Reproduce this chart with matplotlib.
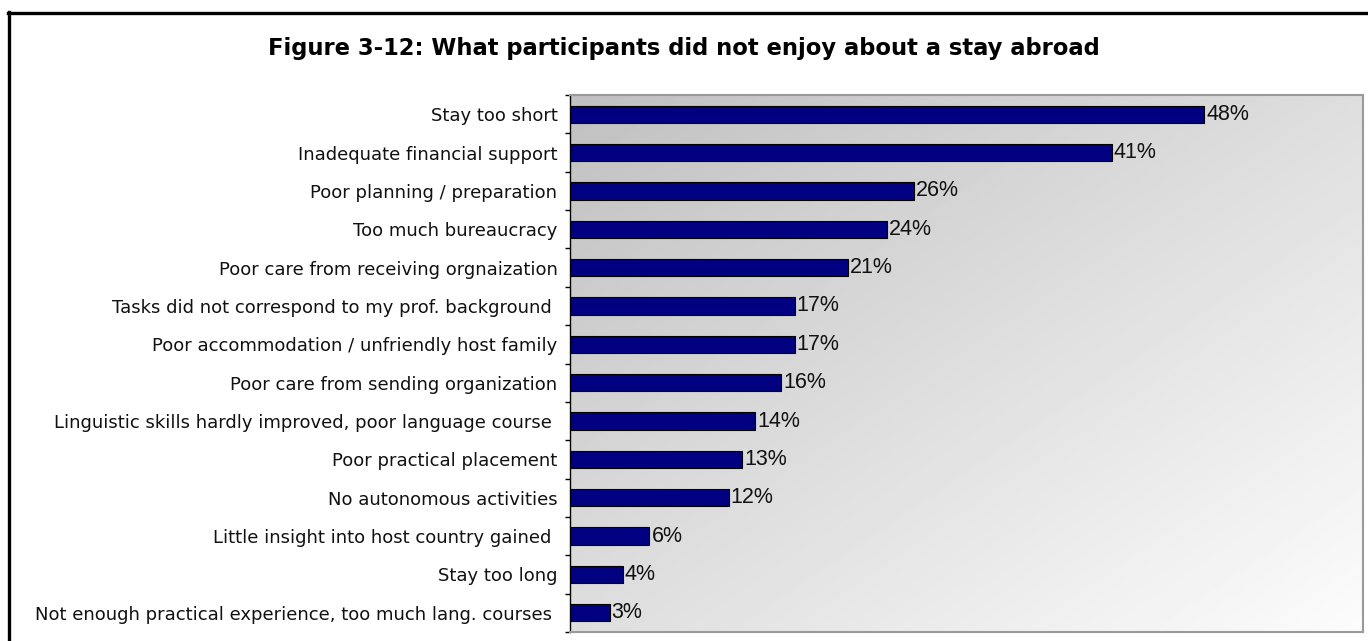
import matplotlib.pyplot as plt
import matplotlib.lines as mlines
import numpy as np

# Chart data
categories = [
    'Stay too short',
    'Inadequate financial support',
    'Poor planning / preparation',
    'Too much bureaucracy',
    'Poor care from receiving orgnaization',
    'Tasks did not correspond to my prof. background ',
    'Poor accommodation / unfriendly host family',
    'Poor care from sending organization',
    'Linguistic skills hardly improved, poor language course ',
    'Poor practical placement',
    'No autonomous activities',
    'Little insight into host country gained ',
    'Stay too long',
    'Not enough practical experience, too much lang. courses ',
]
values = [48, 41, 26, 24, 21, 17, 17, 16, 14, 13, 12, 6, 4, 3]
title = 'Figure 3-12: What participants did not enjoy about a stay abroad'

# Style constants
barColor = '#000080'
W, H = 1368, 641

fig = plt.figure(figsize=(W / 100, H / 100), dpi=100)
fig.patch.set_facecolor('white')

ax = fig.add_axes([570 / W, 1 - 632 / H, (1363 - 570) / W, (632 - 95) / H])

# Diagonal gray gradient in the plot area (dark top-left -> light bottom-right)
u = np.linspace(0, 1, 400)
v = np.linspace(0, 1, 300)
U, V = np.meshgrid(u, v)
t = (U + V) / 2
grad = 192 + (252 - 192) * t
ax.imshow(grad, extent=[0, 1, 0, 1], origin='upper', transform=ax.transAxes,
          cmap='gray', vmin=0, vmax=255, aspect='auto', zorder=0,
          interpolation='bilinear')

y = np.arange(len(categories))
ax.barh(y, values, height=0.45, color=barColor, edgecolor='black',
        linewidth=0.8, zorder=2)

for yi, val in zip(y, values):
    ax.annotate('%d%%' % val, xy=(val, yi), xytext=(1.5, 0),
                textcoords='offset points', va='center', ha='left',
                fontsize=15.5, family='Liberation Sans', color='#111111')

ax.set_xlim(0, 60)
ax.set_ylim(len(categories) - 0.5, -0.5)

# Category labels at bar centers, tick marks at category boundaries
ax.set_yticks(y)
ax.set_yticklabels(categories, fontsize=13, family='DejaVu Sans', color='#111111')
ax.tick_params(axis='y', which='major', length=0, pad=9)
ax.set_yticks(np.arange(len(categories) + 1) - 0.5, minor=True)
ax.tick_params(axis='y', which='minor', length=3.5, width=1, color='black',
               direction='out')
ax.set_xticks([])

for side in ['top', 'right', 'bottom']:
    ax.spines[side].set_color('#9a9a9a')
    ax.spines[side].set_linewidth(1.5)
ax.spines['left'].set_color('black')
ax.spines['left'].set_linewidth(1)

fig.text(684 / W, 1 - 48 / H, title, ha='center', va='center',
         fontsize=16.3, fontweight='bold', family='DejaVu Sans')

# Thick black frame (top and left edges visible in the reference)
fig.add_artist(mlines.Line2D([8 / W, 1], [1 - 13 / H, 1 - 13 / H],
                             transform=fig.transFigure, color='black', linewidth=2.4))
fig.add_artist(mlines.Line2D([9 / W, 9 / W], [0, 1 - 12 / H],
                             transform=fig.transFigure, color='black', linewidth=2.4))

plt.savefig('out.png', dpi=100)
